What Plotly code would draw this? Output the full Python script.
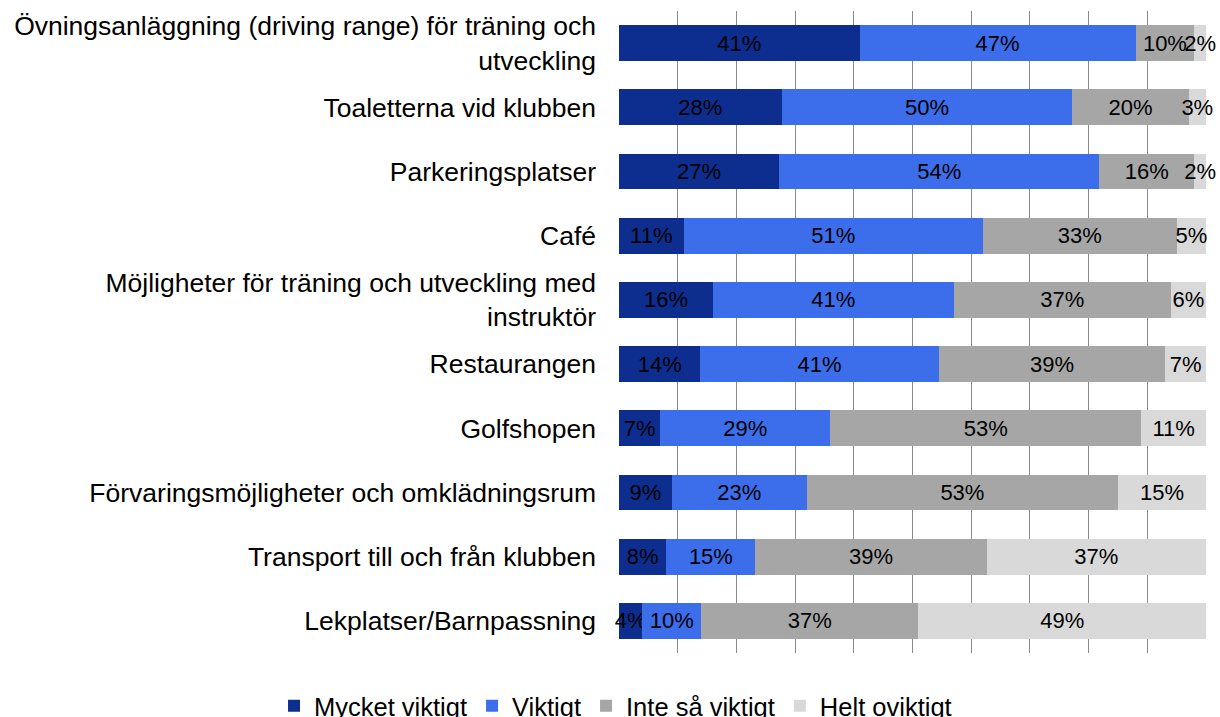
import plotly.graph_objects as go

categories = [
    "Övningsanläggning (driving range) för träning och<br>utveckling",
    "Toaletterna vid klubben",
    "Parkeringsplatser",
    "Café",
    "Möjligheter för träning och utveckling med<br>instruktör",
    "Restaurangen",
    "Golfshopen",
    "Förvaringsmöjligheter och omklädningsrum",
    "Transport till och från klubben",
    "Lekplatser/Barnpassning",
]
mycket_viktigt = [41, 28, 27, 11, 16, 14, 7, 9, 8, 4]
viktigt = [47, 50, 54, 51, 41, 41, 29, 23, 15, 10]
inte_sa_viktigt = [10, 20, 16, 33, 37, 39, 53, 53, 39, 37]
helt_oviktigt = [2, 3, 2, 5, 6, 7, 11, 15, 37, 49]

series = [
    ("Mycket viktigt", mycket_viktigt, "#0d2e8f"),
    ("Viktigt", viktigt, "#3c6dea"),
    ("Inte så viktigt", inte_sa_viktigt, "#a6a6a6"),
    ("Helt oviktigt", helt_oviktigt, "#d9d9d9"),
]

FONT = "Liberation Sans, Arial, sans-serif"

fig = go.Figure()
for name, vals, color in series:
    fig.add_trace(go.Bar(
        y=categories, x=vals, name=name, orientation="h",
        marker=dict(color=color, line=dict(width=0)),
        text=[f"{v}%" for v in vals],
        textposition="inside", insidetextanchor="middle", textangle=0,
        textfont=dict(color="black", size=22, family=FONT),
        cliponaxis=False,
    ))

fig.update_layout(
    barmode="stack", barnorm="percent", bargap=0.44,
    width=1220, height=717,
    margin=dict(l=619, r=14, t=11, b=64, autoexpand=False),
    paper_bgcolor="white", plot_bgcolor="white",
    font=dict(family=FONT, color="black", size=26),
    uniformtext=dict(minsize=22, mode="show"),
    showlegend=True,
    legend=dict(
        orientation="h", xref="paper", yref="paper",
        x=-0.5877, xanchor="left", y=-0.083, yanchor="middle",
        font=dict(size=25.5, family=FONT), traceorder="normal",
        itemwidth=30, bgcolor="rgba(0,0,0,0)",
    ),
    xaxis=dict(
        range=[0, 100], dtick=10, showgrid=True, gridcolor="#8a8a8a",
        gridwidth=1, showticklabels=False, zeroline=False, showline=False,
        fixedrange=True,
    ),
    yaxis=dict(
        autorange="reversed", showgrid=False, showline=False,
        tickfont=dict(size=26.5, family=FONT), ticklabelstandoff=22,
    ),
)

fig.write_html(
    "out.html",
    config={"displayModeBar": False},
    post_script="document.body.style.margin='0';",
)
